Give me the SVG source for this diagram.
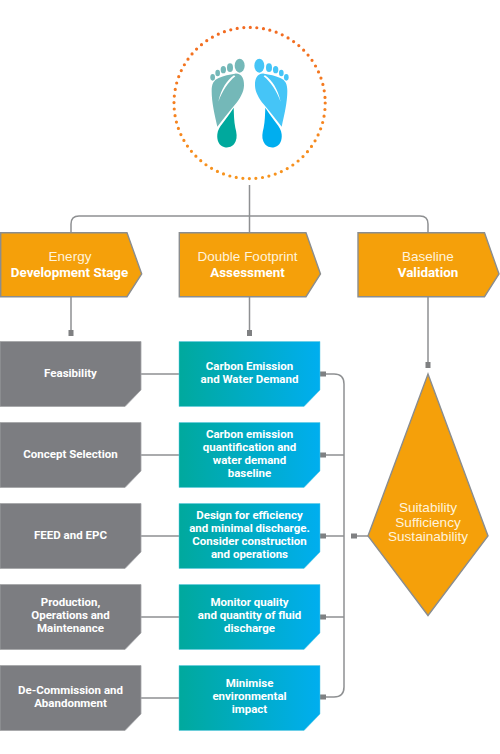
<svg xmlns="http://www.w3.org/2000/svg" width="500" height="754" viewBox="0 0 500 754">
<style>
text{font-family:"Liberation Sans",Arial,sans-serif;fill:#fff;text-anchor:middle}
.b{font-family:Roboto,"Liberation Sans",sans-serif;font-weight:700;font-size:11.5px}
.h{font-size:13.5px;fill:#fff3dc}
.hb{font-family:Roboto,"Liberation Sans",sans-serif;font-weight:700;font-size:13.4px}
.d{font-size:13.6px;fill:#fff3dc}
.o{fill:#f5a00a;stroke:#8a8d8f;stroke-width:1.4}
.g{fill:#7c7d81;stroke:#a3a5a7;stroke-width:.8}
.t{fill:url(#tg);stroke:#5cc8e0;stroke-width:.5}
.l{fill:none;stroke:#8e9092;stroke-width:1.5}
.s{fill:#7f8082}
</style>
<defs>
<linearGradient id="tg" x1="0" x2="1" y1="0" y2="0"><stop offset="0" stop-color="#00a99d"/><stop offset="1" stop-color="#00aeef"/></linearGradient>
<linearGradient id="dg" gradientUnits="userSpaceOnUse" x1="0" y1="27" x2="0" y2="179"><stop offset="0" stop-color="#f26a21"/><stop offset="1" stop-color="#f7941d"/></linearGradient>
<path id="up" d="M225 176C244 174 253 190 252 212C251 232 240 250 226 268C208 290 188 314 172 335C164 300 155 262 155 228C155 208 160 196 176 189C192 182 208 178 225 176Z"/>
<path id="heel" d="M221 278C222 300 222 318 226 338C230 354 232 366 227 379C220 396 206 399 194 397C177 393 170 376 172 358C173 346 180 335 188 325C198 311 210 295 221 278Z"/>
<g id="toes"><ellipse cx="239" cy="152" rx="15" ry="21"/><ellipse cx="210" cy="158" rx="9" ry="13"/><ellipse cx="190" cy="164" rx="8" ry="11"/><ellipse cx="173" cy="174" rx="7" ry="10"/><ellipse cx="158" cy="187" rx="7" ry="10"/></g>
</defs>
<g id="connectors">
<path class="l" d="M249.500 185V232M71 232V224Q71 216 79 216H420Q428 216 428 224V232"/>
<path class="l" d="M71 297V333M249.500 297V333M428 297V363"/>
<path class="l" d="M141 374H179M141 455H179M141 536H179M141 617H179M141 698H179"/>
<path class="l" d="M320 374H334Q344 374 344 384V687Q344 697 334 697H320M320 455H344M320 536H344M320 617H344M352 536H368"/>
<rect class="s" x="68.500" y="330" width="5" height="6"/><rect class="s" x="247" y="330" width="5" height="6"/><rect class="s" x="425.500" y="362" width="5" height="6"/>
<rect class="s" x="320" y="371.500" width="6" height="5"/><rect class="s" x="320" y="452.500" width="6" height="5"/><rect class="s" x="320" y="533.500" width="6" height="5"/><rect class="s" x="320" y="614.500" width="6" height="5"/><rect class="s" x="320" y="694.500" width="6" height="5"/><rect class="s" x="351" y="533.500" width="6" height="5"/>
</g>
<g id="footprint">
<circle cx="249.600" cy="103" r="75.600" fill="none" stroke="url(#dg)" stroke-width="3.200" stroke-linecap="round" stroke-dasharray="0 6.6"/>
<g transform="translate(160 15) scale(.3333)">
<g fill="#74b8b8"><use href="#up"/><use href="#toes"/></g>
<path d="M222 181C200 196 184 222 175 260C188 226 204 202 226 184Z" fill="#fff"/>
<use href="#heel" fill="#00a99d"/>
<g transform="translate(537 0) scale(-1 1)"><g fill="#45c5f7"><use href="#up"/><use href="#toes"/></g>
<path d="M222 181C200 196 184 222 175 260C188 226 204 202 226 184Z" fill="#fff"/>
<use href="#heel" fill="#00aeef"/></g>
</g>
</g>
<g id="stage"><path class="o" d="M.7 232.700H127L141.700 274L127 296.700H.7Z"/><text class="h" x="70" y="261">Energy</text><text class="hb" x="69.500" y="276.500">Development Stage</text></g>
<g id="assessment"><path class="o" d="M179.300 232.700H306L320.500 274L306 296.700H179.300Z"/><text class="h" x="247.500" y="261">Double Footprint</text><text class="hb" x="247.500" y="276.500">Assessment</text></g>
<g id="validation"><path class="o" d="M358 232.700H484.500L499 274L484.500 296.700H358Z"/><text class="h" x="428" y="261">Baseline</text><text class="hb" x="428" y="276.500">Validation</text></g>
<g id="diamond"><path class="o" d="M428 374L488 536L428 615.500L368 536Z"/><text class="d" x="428" y="512">Suitability</text><text class="d" x="428" y="526.500">Sufficiency</text><text class="d" x="428" y="541">Sustainability</text></g>
<g id="g1"><path class="g" d="M0 341.500H141V390L125 406.500H0Z"/><text class="b" x="70.500" y="377">Feasibility</text></g>
<g id="g2"><path class="g" d="M0 422.500H141V471L125 487.500H0Z"/><text class="b" x="70.500" y="458">Concept Selection</text></g>
<g id="g3"><path class="g" d="M0 503.500H141V552L125 568.500H0Z"/><text class="b" x="70.500" y="539">FEED and EPC</text></g>
<g id="g4"><path class="g" d="M0 584.500H141V633L125 649.500H0Z"/><text class="b" x="70.500" y="606">Production,</text><text class="b" x="70.500" y="619">Operations and</text><text class="b" x="70.500" y="632">Maintenance</text></g>
<g id="g5"><path class="g" d="M0 665.500H141V714L125 730.500H0Z"/><text class="b" x="70.500" y="693.500">De-Commission and</text><text class="b" x="70.500" y="706.500">Abandonment</text></g>
<g id="t1"><path class="t" d="M179 341.500H320V390L304 406.500H179Z"/><text class="b" x="249.500" y="370">Carbon Emission</text><text class="b" x="249.500" y="383">and Water Demand</text></g>
<g id="t2"><path class="t" d="M179 422.500H320V471L304 487.500H179Z"/><text class="b" x="249.500" y="438">Carbon emission</text><text class="b" x="249.500" y="451">quantification and</text><text class="b" x="249.500" y="464">water demand</text><text class="b" x="249.500" y="477">baseline</text></g>
<g id="t3"><path class="t" d="M179 503.500H320V552L304 568.500H179Z"/><text class="b" x="249.500" y="519">Design for efficiency</text><text class="b" x="249.500" y="532">and minimal discharge.</text><text class="b" x="249.500" y="545">Consider construction</text><text class="b" x="249.500" y="558">and operations</text></g>
<g id="t4"><path class="t" d="M179 584.500H320V633L304 649.500H179Z"/><text class="b" x="249.500" y="606">Monitor quality</text><text class="b" x="249.500" y="619">and quantity of fluid</text><text class="b" x="249.500" y="632">discharge</text></g>
<g id="t5"><path class="t" d="M179 665.500H320V714L304 730.500H179Z"/><text class="b" x="249.500" y="687">Minimise</text><text class="b" x="249.500" y="700">environmental</text><text class="b" x="249.500" y="713">impact</text></g>
</svg>
